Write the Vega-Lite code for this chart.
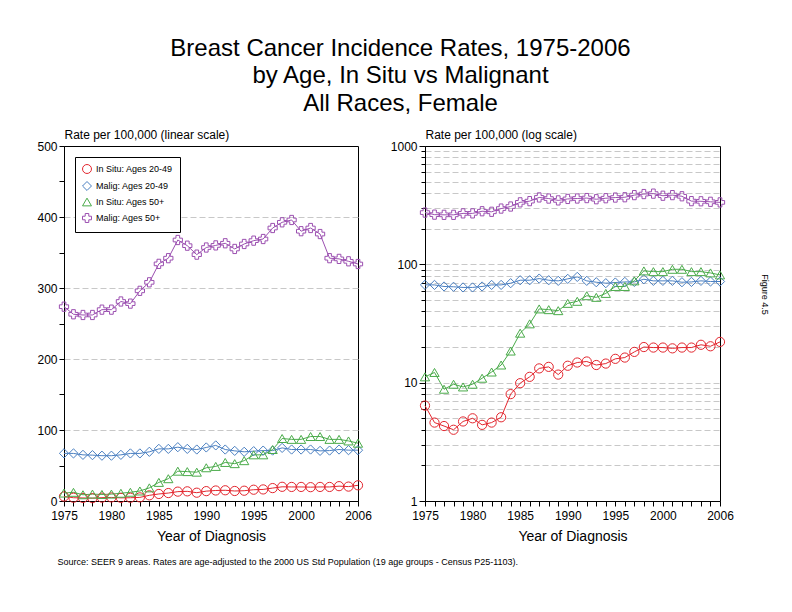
{
  "$schema": "https://vega.github.io/schema/vega-lite/v6.json",
  "padding": {"left": 36, "top": 36, "right": 5, "bottom": 5},
  "config": {
    "font": "Liberation Sans",
    "view": {"stroke": "black", "strokeWidth": 1},
    "axis": {"domainColor": "black", "tickColor": "black", "labelColor": "black", "titleColor": "black", "labelFontSize": 12, "titleFontWeight": "normal", "gridColor": "#c8c8c8", "gridDash": [6, 3], "tickSize": 5, "labelPadding": 2}
  },
  "datasets": {
    "d": [
      {"year":1975,"series":"In Situ: Ages 20-49","rate":6.4},
      {"year":1976,"series":"In Situ: Ages 20-49","rate":4.6},
      {"year":1977,"series":"In Situ: Ages 20-49","rate":4.3},
      {"year":1978,"series":"In Situ: Ages 20-49","rate":4.0},
      {"year":1979,"series":"In Situ: Ages 20-49","rate":4.7},
      {"year":1980,"series":"In Situ: Ages 20-49","rate":5.0},
      {"year":1981,"series":"In Situ: Ages 20-49","rate":4.4},
      {"year":1982,"series":"In Situ: Ages 20-49","rate":4.6},
      {"year":1983,"series":"In Situ: Ages 20-49","rate":5.1},
      {"year":1984,"series":"In Situ: Ages 20-49","rate":8.0},
      {"year":1985,"series":"In Situ: Ages 20-49","rate":9.9},
      {"year":1986,"series":"In Situ: Ages 20-49","rate":11.2},
      {"year":1987,"series":"In Situ: Ages 20-49","rate":13.2},
      {"year":1988,"series":"In Situ: Ages 20-49","rate":13.6},
      {"year":1989,"series":"In Situ: Ages 20-49","rate":11.7},
      {"year":1990,"series":"In Situ: Ages 20-49","rate":13.9},
      {"year":1991,"series":"In Situ: Ages 20-49","rate":14.8},
      {"year":1992,"series":"In Situ: Ages 20-49","rate":15.1},
      {"year":1993,"series":"In Situ: Ages 20-49","rate":14.1},
      {"year":1994,"series":"In Situ: Ages 20-49","rate":14.5},
      {"year":1995,"series":"In Situ: Ages 20-49","rate":15.9},
      {"year":1996,"series":"In Situ: Ages 20-49","rate":16.3},
      {"year":1997,"series":"In Situ: Ages 20-49","rate":18.2},
      {"year":1998,"series":"In Situ: Ages 20-49","rate":20.0},
      {"year":1999,"series":"In Situ: Ages 20-49","rate":19.8},
      {"year":2000,"series":"In Situ: Ages 20-49","rate":19.8},
      {"year":2001,"series":"In Situ: Ages 20-49","rate":19.5},
      {"year":2002,"series":"In Situ: Ages 20-49","rate":19.8},
      {"year":2003,"series":"In Situ: Ages 20-49","rate":19.8},
      {"year":2004,"series":"In Situ: Ages 20-49","rate":20.9},
      {"year":2005,"series":"In Situ: Ages 20-49","rate":20.3},
      {"year":2006,"series":"In Situ: Ages 20-49","rate":22.1},
      {"year":1975,"series":"Malig: Ages 20-49","rate":67.1},
      {"year":1976,"series":"Malig: Ages 20-49","rate":67.0},
      {"year":1977,"series":"Malig: Ages 20-49","rate":65.0},
      {"year":1978,"series":"Malig: Ages 20-49","rate":64.6},
      {"year":1979,"series":"Malig: Ages 20-49","rate":63.8},
      {"year":1980,"series":"Malig: Ages 20-49","rate":63.8},
      {"year":1981,"series":"Malig: Ages 20-49","rate":65.0},
      {"year":1982,"series":"Malig: Ages 20-49","rate":67.0},
      {"year":1983,"series":"Malig: Ages 20-49","rate":67.0},
      {"year":1984,"series":"Malig: Ages 20-49","rate":69.3},
      {"year":1985,"series":"Malig: Ages 20-49","rate":73.4},
      {"year":1986,"series":"Malig: Ages 20-49","rate":73.4},
      {"year":1987,"series":"Malig: Ages 20-49","rate":75.8},
      {"year":1988,"series":"Malig: Ages 20-49","rate":73.4},
      {"year":1989,"series":"Malig: Ages 20-49","rate":72.5},
      {"year":1990,"series":"Malig: Ages 20-49","rate":75.4},
      {"year":1991,"series":"Malig: Ages 20-49","rate":78.3},
      {"year":1992,"series":"Malig: Ages 20-49","rate":72.5},
      {"year":1993,"series":"Malig: Ages 20-49","rate":70.6},
      {"year":1994,"series":"Malig: Ages 20-49","rate":69.3},
      {"year":1995,"series":"Malig: Ages 20-49","rate":70.2},
      {"year":1996,"series":"Malig: Ages 20-49","rate":71.0},
      {"year":1997,"series":"Malig: Ages 20-49","rate":71.0},
      {"year":1998,"series":"Malig: Ages 20-49","rate":74.8},
      {"year":1999,"series":"Malig: Ages 20-49","rate":72.5},
      {"year":2000,"series":"Malig: Ages 20-49","rate":72.5},
      {"year":2001,"series":"Malig: Ages 20-49","rate":72.5},
      {"year":2002,"series":"Malig: Ages 20-49","rate":70.6},
      {"year":2003,"series":"Malig: Ages 20-49","rate":71.0},
      {"year":2004,"series":"Malig: Ages 20-49","rate":72.5},
      {"year":2005,"series":"Malig: Ages 20-49","rate":71.6},
      {"year":2006,"series":"Malig: Ages 20-49","rate":71.6},
      {"year":1975,"series":"In Situ: Ages 50+","rate":11.2},
      {"year":1976,"series":"In Situ: Ages 50+","rate":12.2},
      {"year":1977,"series":"In Situ: Ages 50+","rate":8.8},
      {"year":1978,"series":"In Situ: Ages 50+","rate":9.7},
      {"year":1979,"series":"In Situ: Ages 50+","rate":9.2},
      {"year":1980,"series":"In Situ: Ages 50+","rate":9.7},
      {"year":1981,"series":"In Situ: Ages 50+","rate":10.9},
      {"year":1982,"series":"In Situ: Ages 50+","rate":12.3},
      {"year":1983,"series":"In Situ: Ages 50+","rate":14.1},
      {"year":1984,"series":"In Situ: Ages 50+","rate":18.5},
      {"year":1985,"series":"In Situ: Ages 50+","rate":26.2},
      {"year":1986,"series":"In Situ: Ages 50+","rate":31.4},
      {"year":1987,"series":"In Situ: Ages 50+","rate":42.0},
      {"year":1988,"series":"In Situ: Ages 50+","rate":41.4},
      {"year":1989,"series":"In Situ: Ages 50+","rate":40.6},
      {"year":1990,"series":"In Situ: Ages 50+","rate":46.8},
      {"year":1991,"series":"In Situ: Ages 50+","rate":48.7},
      {"year":1992,"series":"In Situ: Ages 50+","rate":54.3},
      {"year":1993,"series":"In Situ: Ages 50+","rate":52.6},
      {"year":1994,"series":"In Situ: Ages 50+","rate":56.8},
      {"year":1995,"series":"In Situ: Ages 50+","rate":65.0},
      {"year":1996,"series":"In Situ: Ages 50+","rate":65.0},
      {"year":1997,"series":"In Situ: Ages 50+","rate":72.5},
      {"year":1998,"series":"In Situ: Ages 50+","rate":88.0},
      {"year":1999,"series":"In Situ: Ages 50+","rate":86.8},
      {"year":2000,"series":"In Situ: Ages 50+","rate":86.8},
      {"year":2001,"series":"In Situ: Ages 50+","rate":90.8},
      {"year":2002,"series":"In Situ: Ages 50+","rate":90.8},
      {"year":2003,"series":"In Situ: Ages 50+","rate":86.8},
      {"year":2004,"series":"In Situ: Ages 50+","rate":86.8},
      {"year":2005,"series":"In Situ: Ages 50+","rate":84.6},
      {"year":2006,"series":"In Situ: Ages 50+","rate":81.4},
      {"year":1975,"series":"Malig: Ages 50+","rate":273.7},
      {"year":1976,"series":"Malig: Ages 50+","rate":263.0},
      {"year":1977,"series":"Malig: Ages 50+","rate":262.0},
      {"year":1978,"series":"Malig: Ages 50+","rate":262.0},
      {"year":1979,"series":"Malig: Ages 50+","rate":269.5},
      {"year":1980,"series":"Malig: Ages 50+","rate":269.5},
      {"year":1981,"series":"Malig: Ages 50+","rate":281.0},
      {"year":1982,"series":"Malig: Ages 50+","rate":278.0},
      {"year":1983,"series":"Malig: Ages 50+","rate":296.0},
      {"year":1984,"series":"Malig: Ages 50+","rate":308.0},
      {"year":1985,"series":"Malig: Ages 50+","rate":334.0},
      {"year":1986,"series":"Malig: Ages 50+","rate":342.0},
      {"year":1987,"series":"Malig: Ages 50+","rate":367.6},
      {"year":1988,"series":"Malig: Ages 50+","rate":359.6},
      {"year":1989,"series":"Malig: Ages 50+","rate":347.0},
      {"year":1990,"series":"Malig: Ages 50+","rate":357.0},
      {"year":1991,"series":"Malig: Ages 50+","rate":360.0},
      {"year":1992,"series":"Malig: Ages 50+","rate":363.0},
      {"year":1993,"series":"Malig: Ages 50+","rate":355.0},
      {"year":1994,"series":"Malig: Ages 50+","rate":362.0},
      {"year":1995,"series":"Malig: Ages 50+","rate":366.7},
      {"year":1996,"series":"Malig: Ages 50+","rate":369.0},
      {"year":1997,"series":"Malig: Ages 50+","rate":384.5},
      {"year":1998,"series":"Malig: Ages 50+","rate":392.5},
      {"year":1999,"series":"Malig: Ages 50+","rate":395.8},
      {"year":2000,"series":"Malig: Ages 50+","rate":380.0},
      {"year":2001,"series":"Malig: Ages 50+","rate":384.5},
      {"year":2002,"series":"Malig: Ages 50+","rate":376.0},
      {"year":2003,"series":"Malig: Ages 50+","rate":342.0},
      {"year":2004,"series":"Malig: Ages 50+","rate":341.0},
      {"year":2005,"series":"Malig: Ages 50+","rate":337.6},
      {"year":2006,"series":"Malig: Ages 50+","rate":333.8}
    ]
  },
  "title": {"text": "Source: SEER 9 areas.  Rates are age-adjusted to the 2000 US Std Population (19 age groups - Census P25-1103).", "orient": "bottom", "anchor": "start", "fontSize": 9, "fontWeight": "normal", "color": "black", "dx": 21, "offset": 14},
  "vconcat": [
    {
      "title": {"text": ["Breast Cancer Incidence Rates, 1975-2006", "by Age, In Situ vs Malignant", "All Races, Female"], "fontSize": 24, "fontWeight": "normal", "color": "black", "lineHeight": 27.5, "anchor": "middle", "offset": 12, "dx": -2},
      "resolve": {"scale": {"y": "independent", "color": "independent", "shape": "independent"}, "legend": {"color": "independent", "shape": "independent"}},
      "spacing": 17,
      "hconcat": [
        {
          "width": 294,
          "height": 355,
          "data": {"name": "d"},
          "encoding": {
            "x": {"field": "year", "type": "quantitative", "scale": {"domain": [1975, 2006], "nice": false, "zero": false},
              "axis": {"title": "Year of Diagnosis", "titleFontSize": 14, "titlePadding": 8, "labelPadding": 4, "values": [1975,1976,1977,1978,1979,1980,1981,1982,1983,1984,1985,1986,1987,1988,1989,1990,1991,1992,1993,1994,1995,1996,1997,1998,1999,2000,2001,2002,2003,2004,2005,2006], "format": "d", "labelExpr": "((datum.value % 5 === 0 && datum.value !== 2005) || datum.value === 2006) ? datum.label : ''", "grid": false, "labelFlush": false, "labelOverlap": false}},
            "y": {"field": "rate", "type": "quantitative", "scale": {"domain": [0, 500], "nice": false},
              "axis": {"title": "Rate per 100,000 (linear scale)", "titleFontSize": 12, "titleAngle": 0, "titleAlign": "left", "titleBaseline": "bottom", "titleX": 0, "titleY": -5, "values": [0,50,100,150,200,250,300,350,400,450,500], "labelExpr": "datum.value % 100 === 0 ? datum.label : ''", "grid": true, "gridOpacity": {"condition": {"test": "datum.value % 100 === 0 && datum.value > 0 && datum.value < 500", "value": 1}, "value": 0}}},
            "color": {"field": "series", "type": "nominal", "title": null, "scale": {"domain": ["In Situ: Ages 20-49", "Malig: Ages 20-49", "In Situ: Ages 50+", "Malig: Ages 50+"], "range": ["#e3262e", "#4a7fc1", "#4aab4a", "#9b4fb0"]},
              "legend": {"title": null, "orient": "top-left", "offset": 11, "padding": 7, "strokeColor": "black", "fillColor": "white", "labelFontSize": 9, "labelColor": "black", "symbolSize": 80, "symbolStrokeWidth": 1, "rowPadding": 3, "symbolFillColor": "transparent"}}
          },
          "layer": [
            {"mark": {"type": "line", "strokeWidth": 1}},
            {"mark": {"type": "point", "filled": false, "size": 85, "strokeWidth": 1, "opacity": 1},
             "encoding": {
               "shape": {"field": "series", "type": "nominal", "title": null, "scale": {"domain": ["In Situ: Ages 20-49", "Malig: Ages 20-49", "In Situ: Ages 50+", "Malig: Ages 50+"], "range": ["circle", "diamond", "triangle-up", "cross"]},
                 "legend": {"title": null, "orient": "top-left", "offset": 11, "padding": 7, "strokeColor": "black", "fillColor": "white", "labelFontSize": 9, "labelColor": "black", "symbolSize": 80, "symbolStrokeWidth": 1, "rowPadding": 3, "symbolFillColor": "transparent"}}
             }}
          ]
        },
        {
          "width": 295,
          "height": 355,
          "data": {"name": "d"},
          "resolve": {"axis": {"y": "independent"}},
          "encoding": {
            "x": {"field": "year", "type": "quantitative", "scale": {"domain": [1975, 2006], "nice": false, "zero": false},
              "axis": {"title": "Year of Diagnosis", "titleFontSize": 14, "titlePadding": 8, "labelPadding": 4, "values": [1975,1976,1977,1978,1979,1980,1981,1982,1983,1984,1985,1986,1987,1988,1989,1990,1991,1992,1993,1994,1995,1996,1997,1998,1999,2000,2001,2002,2003,2004,2005,2006], "format": "d", "labelExpr": "((datum.value % 5 === 0 && datum.value !== 2005) || datum.value === 2006) ? datum.label : ''", "grid": false, "labelFlush": false, "labelOverlap": false}},
            "color": {"field": "series", "type": "nominal", "legend": null, "scale": {"domain": ["In Situ: Ages 20-49", "Malig: Ages 20-49", "In Situ: Ages 50+", "Malig: Ages 50+"], "range": ["#e3262e", "#4a7fc1", "#4aab4a", "#9b4fb0"]}}
          },
          "layer": [
            {"mark": {"type": "line", "strokeWidth": 1},
             "encoding": {"y": {"field": "rate", "type": "quantitative", "scale": {"type": "log", "domain": [1, 1000], "nice": false},
               "axis": {"title": "Rate per 100,000 (log scale)", "titleFontSize": 12, "titleAngle": 0, "titleAlign": "left", "titleBaseline": "bottom", "titleX": 0, "titleY": -5, "values": [1,2,3,4,5,6,7,8,9,10,20,30,40,50,60,70,80,90,100,200,300,400,500,600,700,800,900,1000], "format": "d", "labelExpr": "(datum.value === 1 || datum.value === 10 || datum.value === 100 || datum.value === 1000) ? datum.label : ''", "grid": true, "tickSize": {"condition": {"test": "datum.value === 1 || datum.value === 10 || datum.value === 100 || datum.value === 1000", "value": 6}, "value": 4}, "gridOpacity": {"condition": {"test": "datum.value > 1 && datum.value < 1000", "value": 1}, "value": 0}}}}},
            {"mark": {"type": "point", "filled": false, "size": 85, "strokeWidth": 1, "opacity": 1},
             "encoding": {
               "y": {"field": "rate", "type": "quantitative", "scale": {"type": "log", "domain": [1, 1000], "nice": false}, "axis": null},
               "shape": {"field": "series", "type": "nominal", "legend": null, "scale": {"domain": ["In Situ: Ages 20-49", "Malig: Ages 20-49", "In Situ: Ages 50+", "Malig: Ages 50+"], "range": ["circle", "diamond", "triangle-up", "cross"]}}
             }},
            {"mark": {"type": "point", "opacity": 0},
             "encoding": {
               "y": {"field": "rate", "type": "quantitative", "scale": {"type": "log", "domain": [1, 1000], "nice": false},
                 "axis": {"orient": "right", "title": "Figure 4.5", "titleFontSize": 9, "titleAngle": 90, "titleAlign": "center", "titleBaseline": "middle", "titleX": 44, "titleY": 148, "labels": false, "ticks": false, "domain": false, "grid": false}}
             }}
          ]
        }
      ]
    }
  ]
}
